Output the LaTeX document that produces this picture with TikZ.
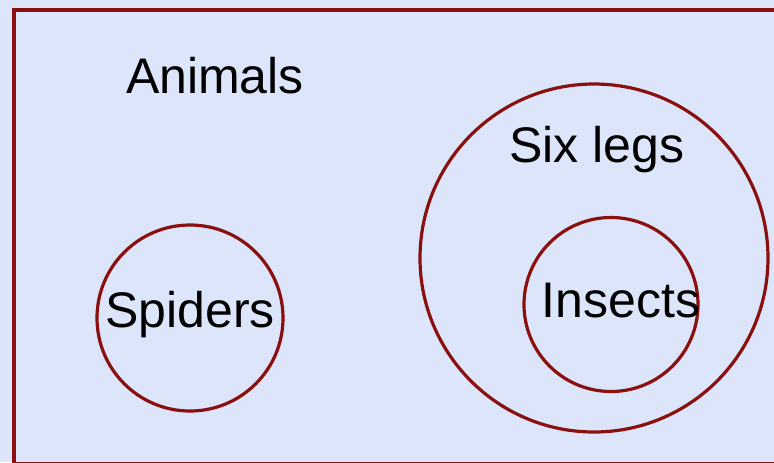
\documentclass[tikz,border=0pt]{standalone}
\usepackage{fontspec}
\setmainfont{Liberation Sans}
\definecolor{slide}{HTML}{DCE5F9}
\definecolor{setred}{HTML}{8A1010}

\begin{document}
\begin{tikzpicture}[x=0.75pt,y=-0.75pt,
  setline/.style={setred,line width=2.4pt},
  setname/.style={anchor=base,inner sep=0pt,font=\fontsize{37.5}{40}\selectfont}]
\useasboundingbox (0,0) rectangle (774,462);
\fill[slide] (0,0) rectangle (774,462);
\clip (0,0) rectangle (774,462);

% universe: animals
\draw[setline] (14,10) rectangle (800,463.5);
\node[setname] (animals) at (215,93) {Animals};

% spiders
\draw[setline] (190,318) circle (93);
\node[setname] (spiders) at (190,327) {Spiders};

% six legs and insects
\draw[setline] (594,258) circle (174);
\node[setname] (sixlegs) at (597,162) {Six legs};
\draw[setline] (611,304.5) circle (87);
\node[setname] (insects) at (621,317) {Insects};
\end{tikzpicture}
\end{document}
